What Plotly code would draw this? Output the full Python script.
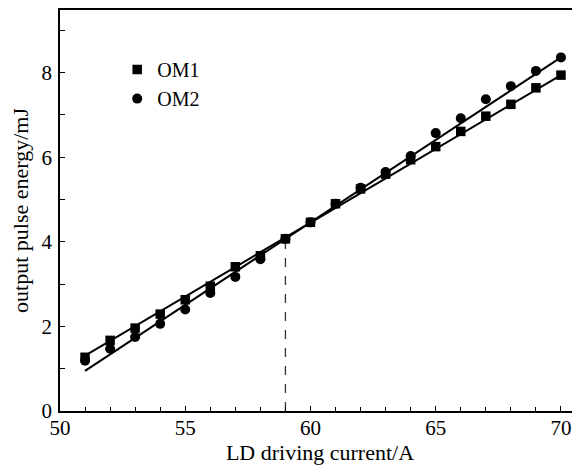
import plotly.graph_objects as go

# Data
current = [51, 52, 53, 54, 55, 56, 57, 58, 59, 60, 61, 62, 63, 64, 65, 66, 67, 68, 69, 70]
om1_energy = [1.27, 1.67, 1.96, 2.29, 2.63, 2.95, 3.41, 3.67, 4.07, 4.46,
              4.90, 5.25, 5.60, 5.94, 6.25, 6.61, 6.97, 7.25, 7.64, 7.94]
om2_energy = [1.19, 1.47, 1.75, 2.06, 2.40, 2.79, 3.17, 3.59, 4.07, 4.46,
              4.90, 5.28, 5.65, 6.03, 6.57, 6.92, 7.37, 7.68, 8.04, 8.36]

# Linear fit lines (end points)
fit_current = [51, 70]
om1_fit = [1.31, 7.94]
om2_fit = [0.95, 8.36]

# Crossing marker (dashed vertical line)
cross_current = [59, 59]
cross_energy = [0, 4.07]

x_ticks = [50, 55, 60, 65, 70]
y_ticks = [0, 2, 4, 6, 8]

FONT = "Liberation Serif"

fig = go.Figure()

fig.add_trace(go.Scatter(x=cross_current, y=cross_energy, mode="lines",
                         line=dict(color="#333333", width=1.3, dash="dash"),
                         showlegend=False, hoverinfo="skip"))
fig.add_trace(go.Scatter(x=fit_current, y=om1_fit, mode="lines",
                         line=dict(color="black", width=2), showlegend=False))
fig.add_trace(go.Scatter(x=fit_current, y=om2_fit, mode="lines",
                         line=dict(color="black", width=2), showlegend=False))
fig.add_trace(go.Scatter(x=current, y=om1_energy, mode="markers", name="OM1",
                         marker=dict(symbol="square", size=9.5, color="black")))
fig.add_trace(go.Scatter(x=current, y=om2_energy, mode="markers", name="OM2",
                         marker=dict(symbol="circle", size=10, color="black")))

# The page body adds an 8 px offset, so the figure is sized to fill the rest
fig.update_layout(
    width=572, height=457,
    margin=dict(l=52, r=0, t=2, b=54),
    paper_bgcolor="white", plot_bgcolor="white",
    font=dict(family=FONT, size=21, color="black"),
    showlegend=True,
    legend=dict(x=0.11, y=0.9, xanchor="left", yanchor="top",
                bgcolor="rgba(0,0,0,0)", font=dict(family=FONT, size=20),
                itemwidth=30, tracegroupgap=0),
)

fig.update_xaxes(
    range=[50, 70.76], tickvals=x_ticks, ticks="inside", ticklen=5,
    tickwidth=1.2, tickcolor="black", ticklabelstandoff=-3,
    minor=dict(ticks="inside", dtick=1, ticklen=4, tickwidth=1, tickcolor="black"),
    showline=True, linecolor="black", linewidth=1.5, mirror=True,
    showgrid=False, zeroline=False,
    title=dict(text="LD driving current/A", font=dict(family=FONT, size=22), standoff=0),
    tickfont=dict(family=FONT, size=21),
)
fig.update_yaxes(
    range=[0, 9.48], tickvals=y_ticks, ticks="inside", ticklen=5,
    tickwidth=1.2, tickcolor="black", ticklabelstandoff=2,
    minor=dict(ticks="inside", dtick=1, ticklen=5, tickwidth=1, tickcolor="black"),
    showline=True, linecolor="black", linewidth=1.5,
    showgrid=False, zeroline=False,
    title=dict(text="output pulse energy/mJ", font=dict(family=FONT, size=22), standoff=10),
    tickfont=dict(family=FONT, size=21),
)

fig.write_html("out.html")
